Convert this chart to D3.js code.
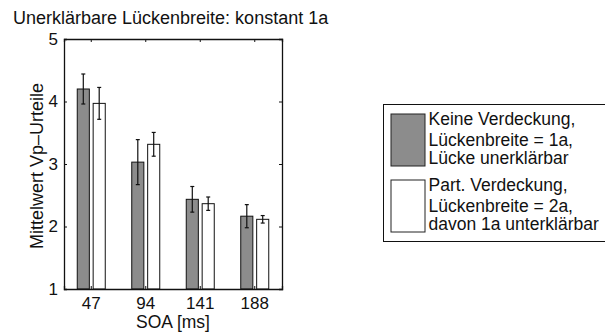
<!DOCTYPE html>
<html>
<head>
<meta charset="utf-8">
<script src="https://cdn.jsdelivr.net/npm/d3@7/dist/d3.min.js"></script>
<style>
  html, body { margin: 0; padding: 0; background: #fff; }
  svg { display: block; font-family: "Liberation Sans", Arial, sans-serif; }
</style>
</head>
<body>
<svg id="chart" width="605" height="335"></svg>
<script>
// Mean ratings per SOA for the two occlusion conditions
const soaLabels = ["47", "94", "141", "188"];
const seriesNames = ["keine", "partiell"];
const meanNone = [4.2, 3.03, 2.435, 2.165];
const errNone = [0.24, 0.36, 0.205, 0.185];
const meanPartial = [3.97, 3.315, 2.365, 2.115];
const errPartial = [0.255, 0.19, 0.107, 0.06];
const yTicks = [1, 2, 3, 4, 5];
const legendLines = [
  ["Keine Verdeckung,", "Lückenbreite = 1a,", "Lücke unerklärbar"],
  ["Part. Verdeckung,", "Lückenbreite = 2a,", "davon 1a unterklärbar"]
];
const titleText = "Unerklärbare Lückenbreite: konstant 1a";
const yLabelText = "Mittelwert Vp\u2013Urteile";
const xLabelText = "SOA [ms]";

const fills = ["#8c8c8c", "#ffffff"];
const tickFont = 17;
const labelFont = 18;

const svg = d3.select("#chart");
const plot = { left: 64, right: 282, top: 39, bottom: 289 };

const x = d3.scaleBand().domain(soaLabels).range([plot.left, plot.right]).padding(0);
const y = d3.scaleLinear().domain([1, 5]).range([plot.bottom, plot.top]);

const rows = soaLabels.map((s, i) => ({
  soa: s,
  values: [
    { key: seriesNames[0], v: meanNone[i], e: errNone[i] },
    { key: seriesNames[1], v: meanPartial[i], e: errPartial[i] }
  ]
}));

// Title
svg.append("text")
  .attr("x", 13).attr("y", 24)
  .attr("font-size", labelFont)
  .attr("fill", "#111")
  .text(titleText);

// Axes box background
svg.append("rect")
  .attr("x", plot.left).attr("y", plot.top)
  .attr("width", plot.right - plot.left).attr("height", plot.bottom - plot.top)
  .attr("fill", "#fff");

// Bars
const groups = svg.append("g").selectAll("g").data(rows).join("g");
groups.each(function (d) {
  const c = x(d.soa) + x.bandwidth() / 2;
  const sub = d3.scaleBand().domain(seriesNames).range([c - 14, c + 14]).paddingInner(0.24);
  const g = d3.select(this);
  g.selectAll("rect").data(d.values).join("rect")
    .attr("x", v => sub(v.key))
    .attr("width", sub.bandwidth())
    .attr("y", v => y(v.v))
    .attr("height", v => y(1) - y(v.v))
    .attr("fill", (v, i) => fills[i])
    .attr("stroke", "#111")
    .attr("stroke-width", 1);
  // Error bars
  const eb = g.selectAll("g.err").data(d.values).join("g").attr("class", "err");
  eb.append("line")
    .attr("x1", v => sub(v.key) + sub.bandwidth() / 2)
    .attr("x2", v => sub(v.key) + sub.bandwidth() / 2)
    .attr("y1", v => y(v.v + v.e))
    .attr("y2", v => y(v.v - v.e))
    .attr("stroke", "#111").attr("stroke-width", 1.2);
  [1, -1].forEach(sign => {
    eb.append("line")
      .attr("x1", v => sub(v.key) + sub.bandwidth() / 2 - 2)
      .attr("x2", v => sub(v.key) + sub.bandwidth() / 2 + 2)
      .attr("y1", v => y(v.v + sign * v.e))
      .attr("y2", v => y(v.v + sign * v.e))
      .attr("stroke", "#111").attr("stroke-width", 1.2);
  });
});

// Axes with inward ticks, boxed
const tickLen = 3;
const axLeft = d3.axisLeft(y).tickValues(yTicks).tickFormat(d3.format("d")).tickSize(-tickLen).tickPadding(6);
const axRight = d3.axisRight(y).tickValues(yTicks).tickFormat("").tickSize(-tickLen);
const axBottom = d3.axisBottom(x).tickSize(-tickLen).tickPadding(8);
const axTop = d3.axisTop(x).tickFormat("").tickSize(-tickLen);

function styleAxis(g) {
  g.select(".domain").attr("stroke", "#111").attr("stroke-width", 1.3);
  g.selectAll(".tick line").attr("stroke", "#111");
  g.selectAll(".tick text").attr("fill", "#111").attr("font-size", tickFont)
    .attr("font-family", "Liberation Sans, Arial, sans-serif");
}
svg.append("g").attr("transform", `translate(${plot.left},0)`).call(axLeft).call(styleAxis);
svg.append("g").attr("transform", `translate(${plot.right},0)`).call(axRight).call(styleAxis);
svg.append("g").attr("transform", `translate(0,${plot.bottom})`).call(axBottom).call(styleAxis);
svg.append("g").attr("transform", `translate(0,${plot.top})`).call(axTop).call(styleAxis);

// Axis labels
svg.append("text")
  .attr("x", (plot.left + plot.right) / 2).attr("y", 328)
  .attr("text-anchor", "middle").attr("font-size", 17.5).attr("fill", "#111")
  .text(xLabelText);
svg.append("text")
  .attr("transform", `translate(43,166) rotate(-90)`)
  .attr("text-anchor", "middle").attr("font-size", labelFont).attr("fill", "#111")
  .text(yLabelText);

// Legend
const legend = svg.append("g");
legend.append("rect")
  .attr("x", 383.5).attr("y", 104.5).attr("width", 260).attr("height", 137)
  .attr("fill", "#fff").attr("stroke", "#111").attr("stroke-width", 1);
const lineOffsets = [11, 31.5, 50];
legendLines.forEach((lines, i) => {
  const top = 114 + i * 66;
  legend.append("rect")
    .attr("x", 391).attr("y", top).attr("width", 34).attr("height", 52)
    .attr("fill", fills[i]).attr("stroke", "#222").attr("stroke-width", 1);
  const t = legend.append("text")
    .attr("font-size", 17.5).attr("fill", "#111");
  lines.forEach((line, j) => {
    t.append("tspan").attr("x", 428.5).attr("y", top + lineOffsets[j]).text(line);
  });
});
</script>
</body>
</html>
